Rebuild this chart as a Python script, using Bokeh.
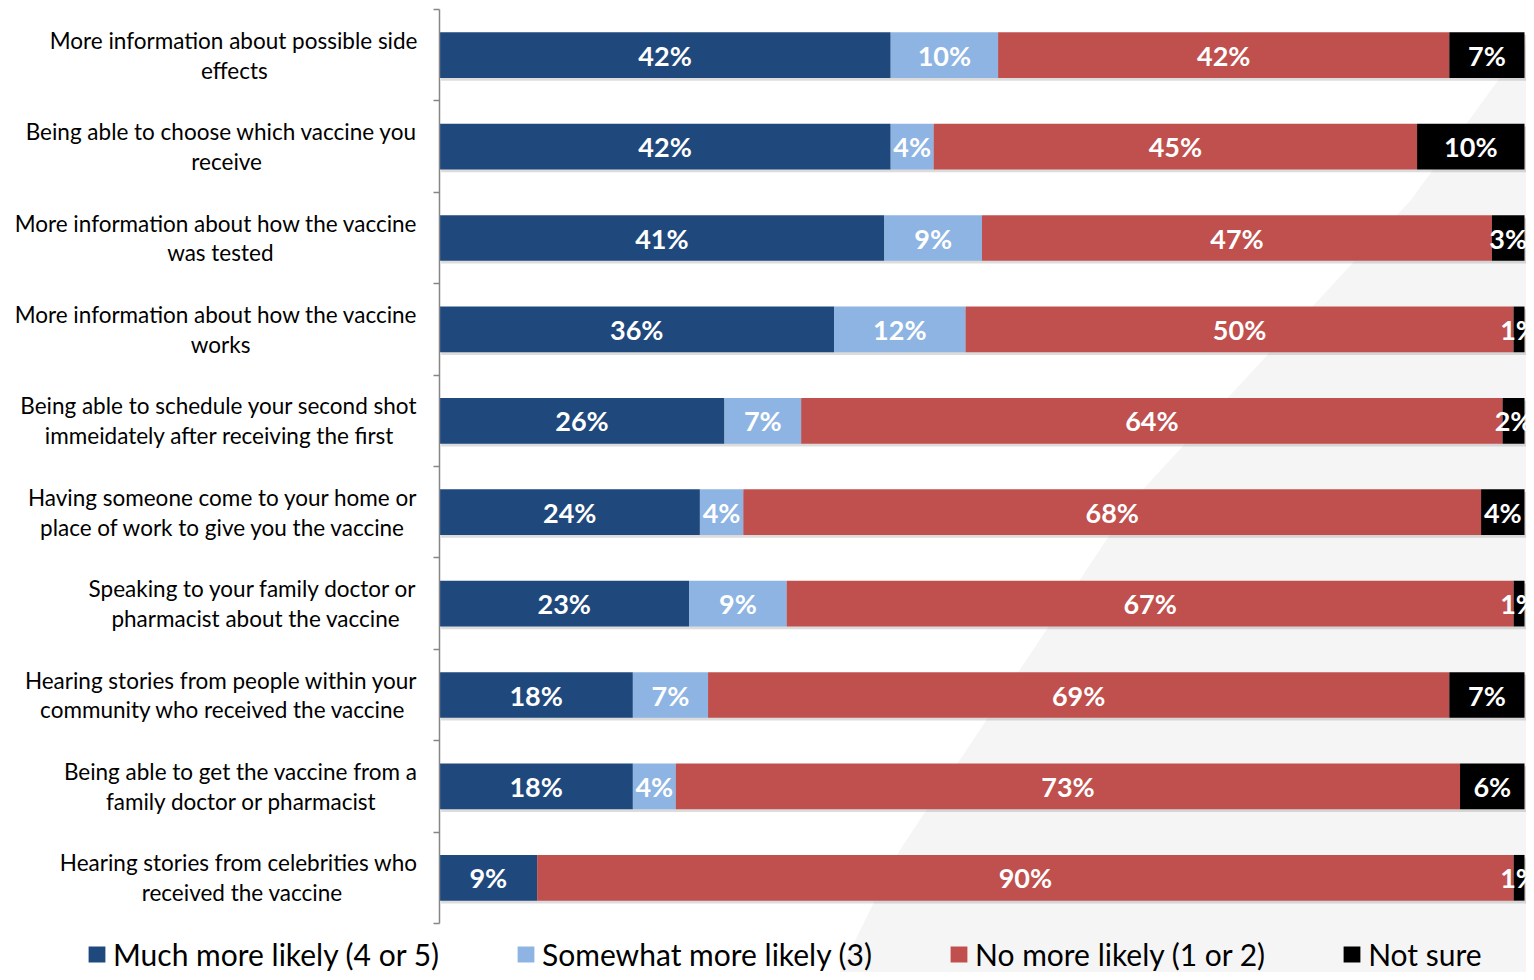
from bokeh.plotting import figure
from bokeh.models import (Range1d, FixedTicker, Legend, LegendItem, ColumnDataSource,
                          PolyAnnotation)
from bokeh.core.properties import value
from bokeh.embed import file_html
from bokeh.resources import INLINE

categories = [
    "More information about possible side\neffects",
    "Being able to choose which vaccine you\nreceive",
    "More information about how the vaccine\nwas tested",
    "More information about how the vaccine\nworks",
    "Being able to schedule your second shot\nimmeidately after receiving the first",
    "Having someone come to your home or\nplace of work to give you the vaccine",
    "Speaking to your family doctor or\npharmacist about the vaccine",
    "Hearing stories from people within your\ncommunity who received the vaccine",
    "Being able to get the vaccine from a\nfamily doctor or pharmacist",
    "Hearing stories from celebrities who\nreceived the vaccine",
]
much_more = [42, 42, 41, 36, 26, 24, 23, 18, 18, 9]
somewhat_more = [10, 4, 9, 12, 7, 4, 9, 7, 4, 0]
no_more = [42, 45, 47, 50, 64, 68, 67, 69, 73, 90]
not_sure = [7, 10, 3, 1, 2, 4, 1, 7, 6, 1]

series_names = ["Much more likely (4 or 5)", "Somewhat more likely (3)",
                "No more likely (1 or 2)", "Not sure"]
series_values = [much_more, somewhat_more, no_more, not_sure]
colors = ["#1F497D", "#8DB4E2", "#C0504D", "#000000"]

FONT = "Lato"
LABEL_PX = 22.5
n = len(categories)
ys = [i + 0.5 for i in range(n)]

# approximate Lato advance widths (em) used to centre the two lines of each label
_W = dict(a=.49, b=.56, c=.46, d=.56, e=.53, f=.32, g=.50, h=.56, i=.24, j=.24, k=.51,
          l=.24, m=.84, n=.56, o=.56, p=.56, q=.56, r=.37, s=.43, t=.35, u=.56, v=.51,
          w=.77, x=.49, y=.51, z=.46)
_W.update({" ": .258, "B": .62, "H": .74, "M": .88, "S": .52})
NBSP = "\u00a0"


def _em(txt):
    return sum(_W.get(ch, .55) for ch in txt)


def centred(label):
    lines = label.split("\n")
    widths = [_em(ln) for ln in lines]
    full = max(widths)
    return "\n".join(ln + NBSP * int(round((full - w) / 2 / _W[" "]))
                     for ln, w in zip(lines, widths))


# 100% stacked: normalise each row
totals = [sum(s[i] for s in series_values) for i in range(n)]
norm = [[s[i] * 100.0 / totals[i] for i in range(n)] for s in series_values]

# canvas geometry (pixels)
W_PX, H_PX = 1526, 972
AX_X, TOP_Y, BOT_Y, END_X = 439, 9, 923, 1524
sx = (END_X - AX_X) / 100.0
sy = (BOT_Y - TOP_Y) / n

p = figure(width=W_PX, height=H_PX, min_border=0,
           x_range=Range1d(-AX_X / sx, (W_PX - AX_X) / sx),
           y_range=Range1d(n + (H_PX - BOT_Y) / sy, -TOP_Y / sy),
           output_backend="svg", toolbar_location=None, tools="")
p.outline_line_color = None
p.xgrid.visible = False
p.ygrid.visible = False
p.xaxis.visible = False

# faint slide background shading
p.add_layout(PolyAnnotation(xs=[100.9, 89.5, 63.9, 42.4, 36.5, 101],
                            ys=[0.23, 2.09, 5.37, 9.2, 10.62, 10.62],
                            fill_color="#f5f5f5", fill_alpha=1, line_color=None,
                            level="underlay"))

# shadow
p.hbar(y=[y + 0.03 for y in ys], left=0.15, right=100.25, height=0.5,
       fill_color="#9a9a9a", fill_alpha=0.35, line_color=None)

renderers = []
lefts = [0.0] * n
label_x, label_y, label_t = [], [], []
for k, name in enumerate(series_names):
    rights = [lefts[i] + norm[k][i] for i in range(n)]
    src = ColumnDataSource(dict(y=ys, left=lefts, right=rights))
    r = p.hbar(y="y", left="left", right="right", height=0.5, source=src,
               fill_color=colors[k], line_color=None)
    renderers.append(r)
    for i in range(n):
        if series_values[k][i] > 0:
            label_x.append((lefts[i] + rights[i]) / 2)
            label_y.append(ys[i])
            label_t.append(f"{series_values[k][i]}%")
    lefts = rights

p.text(x=label_x, y=label_y, text=label_t, text_align="center", text_baseline="middle",
       text_color="white", text_font=value(FONT), text_font_style="bold",
       text_font_size="27px")

ax = p.yaxis[0]
ax.fixed_location = 0
ax.bounds = (0, n)
ax.ticker = FixedTicker(ticks=ys, minor_ticks=list(range(n + 1)))
ax.major_label_overrides = {y: centred(c) for y, c in zip(ys, categories)}
ax.major_tick_out = 0
ax.major_tick_in = 0
ax.minor_tick_out = 6
ax.minor_tick_in = 0
ax.minor_tick_line_color = "#868686"
ax.minor_tick_line_width = 1.5
ax.axis_line_color = "#868686"
ax.axis_line_width = 1.5
ax.major_label_standoff = 16
ax.major_label_text_font = FONT
ax.major_label_text_font_size = f"{LABEL_PX}px"
ax.major_label_text_line_height = 1.1
ax.major_label_text_color = "#000000"

legend = Legend(items=[LegendItem(label=value(nm), renderers=[r])
                       for nm, r in zip(series_names, renderers)],
                orientation="horizontal", location=(86, 0),
                label_text_font=FONT, label_text_font_size="30px", label_text_color="#000000",
                glyph_width=21, glyph_height=20, label_standoff=6, spacing=76,
                padding=0, margin=0, border_line_alpha=0, background_fill_alpha=0)
p.add_layout(legend)

open("out.html", "w").write(file_html(p, INLINE))
